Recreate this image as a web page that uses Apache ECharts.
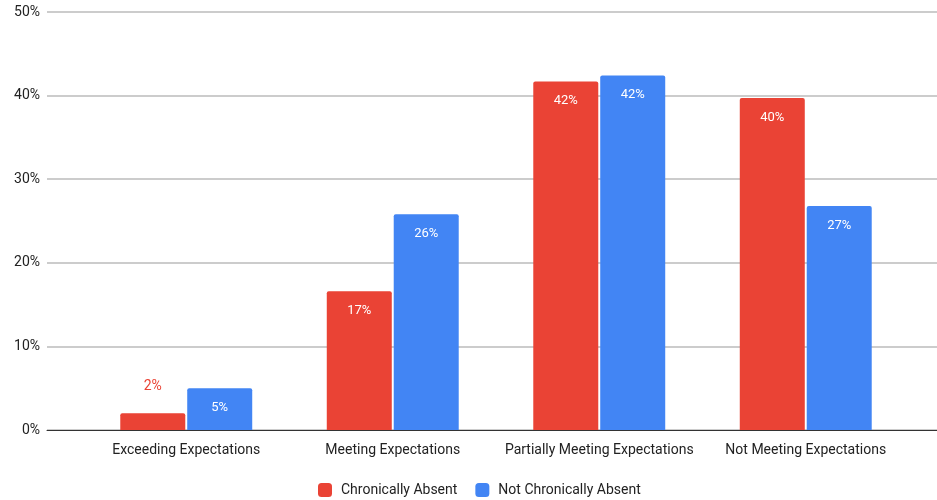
<!DOCTYPE html>
<html>
<head>
<meta charset="utf-8">
<script src="https://cdn.jsdelivr.net/npm/echarts@6/dist/echarts.min.js"></script>
<style>html,body{margin:0;padding:0;background:#fff;}#c{width:937px;height:500px;}</style>
</head>
<body>
<div id="c"></div>
<script>
var categories = ['Exceeding Expectations', 'Meeting Expectations', 'Partially Meeting Expectations', 'Not Meeting Expectations'];
var seriesNames = ['Chronically Absent', 'Not Chronically Absent'];
var chronicallyAbsent = [2.0, 16.6, 41.7, 39.7];
var notChronicallyAbsent = [5.0, 25.8, 42.4, 26.8];
var yTicks = [0, 10, 20, 30, 40, 50];

var colors = ['#ea4335', '#4285f4'];
var FONT = 'Roboto';

function buildData(values, color) {
  return values.map(function (v) {
    if (v < 3) {
      return {
        value: v,
        label: {
          position: 'top', distance: 20, color: color, fontSize: 14,
          textBorderColor: '#fff', textBorderWidth: 3
        }
      };
    }
    return v;
  });
}

function makeSeries(name, values, color) {
  return {
    name: name, type: 'bar', xAxisIndex: 1, yAxisIndex: 1,
    data: buildData(values, color),
    barWidth: 65, barGap: '3%',
    itemStyle: { color: color, borderRadius: [2, 2, 0, 0] },
    label: {
      show: true, position: 'insideTop', distance: 13,
      color: '#fff', fontSize: 13, fontFamily: FONT,
      formatter: function (p) { return Math.round(p.value) + '%'; }
    }
  };
}

var chart = echarts.init(document.getElementById('c'));
chart.setOption({
  animation: false,
  textStyle: { fontFamily: FONT },
  grid: [
    { left: 47, right: 0, top: 12, bottom: 70 },
    { left: 83, right: 28, top: 12, bottom: 70 }
  ],
  legend: {
    data: seriesNames, bottom: 3, left: 318, padding: 0,
    itemWidth: 14, itemHeight: 14, itemGap: 18,
    icon: 'roundRect',
    textStyle: { fontSize: 14, color: '#222', fontFamily: FONT, padding: [0, 0, 0, 4] }
  },
  xAxis: [
    { gridIndex: 0, type: 'value', min: 0, max: 1, show: true,
      axisLine: { show: true, onZero: false, lineStyle: { color: '#333', width: 1 } },
      axisLabel: { show: false }, axisTick: { show: false }, splitLine: { show: false } },
    { gridIndex: 1, type: 'category', data: categories,
      axisLine: { show: false }, axisTick: { show: false },
      axisLabel: { margin: 13, fontSize: 14, color: '#222', fontFamily: FONT, interval: 0 } }
  ],
  yAxis: [
    { gridIndex: 0, type: 'value', min: yTicks[0], max: yTicks[yTicks.length - 1], interval: 10,
      axisLine: { show: false }, axisTick: { show: false },
      axisLabel: { margin: 7, fontSize: 14, color: '#222', fontFamily: FONT,
        formatter: function (v) { return v + '%'; } },
      splitLine: { lineStyle: { color: '#cccccc', width: 2 } } },
    { gridIndex: 1, type: 'value', min: yTicks[0], max: yTicks[yTicks.length - 1], interval: 10, show: false }
  ],
  series: [
    makeSeries(seriesNames[0], chronicallyAbsent, colors[0]),
    makeSeries(seriesNames[1], notChronicallyAbsent, colors[1])
  ]
});
</script>
</body>
</html>
